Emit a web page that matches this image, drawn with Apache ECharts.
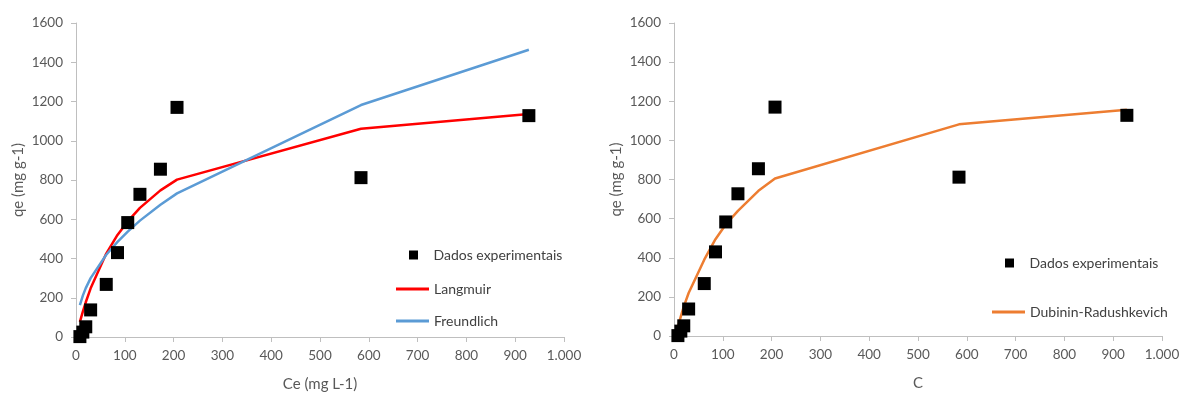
<!DOCTYPE html>
<html>
<head>
<meta charset="utf-8">
<script src="https://cdn.jsdelivr.net/npm/echarts@6/dist/echarts.min.js"></script>
<style>
html,body{margin:0;padding:0;background:#fff;overflow:hidden;}
#chart{width:1179px;height:396px;}
</style>
</head>
<body>
<div id="chart"></div>
<script>
// Experimental data (shared by both panels)
const ce = [8, 14, 20, 30, 62, 85, 106, 131, 173, 207, 584, 928];
const qeExp = [2, 25, 52, 138, 268, 430, 583, 727, 855, 1170, 812, 1128];
// Model curves at the same Ce values
const langmuir = [77, 129, 177, 248, 425, 520, 589, 658, 747, 802, 1061, 1136];
const freundlich = [163, 211, 249, 300, 419, 485, 537, 593, 674, 732, 1182, 1464];
const dubinin = [45, 100, 150, 220, 390, 495, 570, 640, 742, 805, 1082, 1156];
// Axis ticks
const xTicks = {min: 0, max: 1000, step: 100};
const yTicks = {min: 0, max: 1600, step: 200};

const FONT = 'Lato, "Open Sans", sans-serif';
const pair = (xs, ys) => xs.map((x, i) => [x, ys[i]]);
const SQUARE = 'path://M0,0L10,0L10,10L0,10Z';

function fmtX(v) {
  if (v >= 1000) {
    const s = String(v);
    return s.slice(0, s.length - 3) + '.' + s.slice(s.length - 3);
  }
  return String(v);
}

function xAxis(idx, name) {
  return {
    gridIndex: idx, type: 'value', min: xTicks.min, max: xTicks.max, interval: xTicks.step,
    name: name, nameLocation: 'middle', nameGap: 40,
    nameTextStyle: {color: '#595959', fontSize: 15, fontFamily: FONT},
    axisLine: {show: true, lineStyle: {color: '#bfbfbf', width: 1}},
    axisTick: {show: true, length: 5, lineStyle: {color: '#bfbfbf'}},
    axisLabel: {color: '#595959', fontSize: 13.5, fontFamily: FONT, margin: 12, formatter: fmtX},
    splitLine: {show: false}
  };
}
function yAxis(idx) {
  return {
    gridIndex: idx, type: 'value', min: yTicks.min, max: yTicks.max, interval: yTicks.step,
    name: 'qe (mg g-1)', nameLocation: 'middle', nameGap: 50, nameRotate: 90,
    nameTextStyle: {color: '#595959', fontSize: 15, fontFamily: FONT},
    axisLine: {show: true, lineStyle: {color: '#bfbfbf', width: 1}},
    axisTick: {show: true, length: 5, lineStyle: {color: '#bfbfbf'}},
    axisLabel: {color: '#595959', fontSize: 13.5, fontFamily: FONT, margin: 13, formatter: v => String(v)},
    splitLine: {show: false}
  };
}
function lineSeries(name, idx, ys, color) {
  return {
    name: name, type: 'line', xAxisIndex: idx, yAxisIndex: idx,
    data: pair(ce, ys), showSymbol: false, symbol: 'none', smooth: false,
    lineStyle: {color: color, width: 2.5}, itemStyle: {color: color}, z: 2
  };
}
function scatterSeries(idx) {
  return {
    name: 'Dados experimentais', type: 'scatter', xAxisIndex: idx, yAxisIndex: idx,
    data: pair(ce, qeExp), symbol: 'rect', symbolSize: 13,
    itemStyle: {color: '#000000', opacity: 1}, z: 5
  };
}
const legendText = {color: '#404040', fontSize: 14, fontFamily: FONT, lineHeight: 14};

const chart = echarts.init(document.getElementById('chart'), null, {renderer: 'canvas'});
chart.setOption({
  animation: false,
  backgroundColor: '#ffffff',
  grid: [
    {left: 76, right: 615, top: 23, bottom: 59, containLabel: false, outerBoundsMode: 'none'},
    {left: 674, right: 17, top: 23, bottom: 60, containLabel: false, outerBoundsMode: 'none'}
  ],
  xAxis: [xAxis(0, 'Ce (mg L-1)'), xAxis(1, 'C')],
  yAxis: [yAxis(0), yAxis(1)],
  legend: [
    {data: [{name: 'Dados experimentais', icon: SQUARE}], left: 409, top: 248, padding: 0,
     itemWidth: 30, itemHeight: 9, symbolKeepAspect: true, textStyle: legendText, selectedMode: false,
     itemStyle: {opacity: 1}},
    {data: [{name: 'Langmuir', icon: 'rect'}, {name: 'Freundlich', icon: 'rect'}], orient: 'vertical',
     left: 396, top: 282, padding: 0, itemWidth: 33, itemHeight: 3, symbolKeepAspect: false,
     itemGap: 18, textStyle: legendText, selectedMode: false},
    {data: [{name: 'Dados experimentais', icon: SQUARE}], left: 1005, top: 256, padding: 0,
     itemWidth: 30, itemHeight: 9, symbolKeepAspect: true, textStyle: legendText, selectedMode: false,
     itemStyle: {opacity: 1}},
    {data: [{name: 'Dubinin-Radushkevich', icon: 'rect'}], left: 992, top: 305, padding: 0,
     itemWidth: 33, itemHeight: 3, symbolKeepAspect: false, textStyle: legendText, selectedMode: false}
  ],
  series: [
    lineSeries('Langmuir', 0, langmuir, '#ff0000'),
    lineSeries('Freundlich', 0, freundlich, '#5b9bd5'),
    scatterSeries(0),
    lineSeries('Dubinin-Radushkevich', 1, dubinin, '#ed7d31'),
    scatterSeries(1)
  ]
});
</script>
</body>
</html>
